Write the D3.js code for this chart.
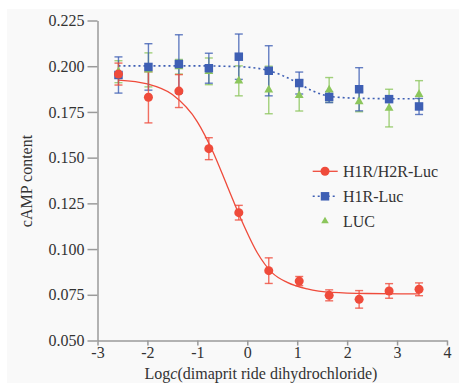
<!DOCTYPE html>
<html>
<head>
<meta charset="utf-8">
<script src="https://cdn.jsdelivr.net/npm/d3@7"></script>
<style>
  body { margin: 0; background: #fff; }
  svg text { font-family: "Liberation Serif", "Times New Roman", serif !important; fill: #333; }
</style>
</head>
<body>
<div id="chart"></div>
<script>
// data
const logConc = [-2.58, -1.98, -1.37, -0.77, -0.17, 0.43, 1.04, 1.64, 2.24, 2.84, 3.44];

const h1h2 = [0.1957, 0.183, 0.1864, 0.1549, 0.1199, 0.0882, 0.0825, 0.0747, 0.0725, 0.0771, 0.078];
const h1h2Err = [0.006, 0.014, 0.009, 0.006, 0.004, 0.007, 0.0025, 0.003, 0.0048, 0.004, 0.0035];

const h1 = [0.1952, 0.1996, 0.2012, 0.1989, 0.2052, 0.1975, 0.1908, 0.1831, 0.1874, 0.182, 0.178];
const h1Err = [0.0099, 0.0127, 0.016, 0.0082, 0.0124, 0.0137, 0.006, 0.003, 0.0118, 0.001, 0.0044];

const luc = [0.197, 0.198, 0.1997, 0.1972, 0.192, 0.187, 0.184, 0.187, 0.1806, 0.1771, 0.1846];
const lucErr = [0.006, 0.0093, 0.004, 0.0073, 0.0082, 0.013, 0.0085, 0.0068, 0.0055, 0.0103, 0.0075];

// fitted curves, sampled from the figure
const fitRedX = [-2.58, -2.0, -1.5, -1.0, -0.7, -0.4, -0.1, 0.2, 0.5, 0.8, 1.2, 1.7, 2.4, 3.44];
const fitRedY = [0.1924, 0.1903, 0.1845, 0.1696, 0.1539, 0.1344, 0.1148, 0.098, 0.087, 0.0818, 0.0782, 0.0763, 0.0757, 0.0755];
const fitBlueX = [-2.58, -1.0, -0.5, 0.0, 0.4, 0.7, 1.0, 1.3, 1.6, 2.0, 2.6, 3.44];
const fitBlueY = [0.2002, 0.2002, 0.2, 0.1995, 0.1978, 0.195, 0.191, 0.1866, 0.1838, 0.1827, 0.1823, 0.1822];

const xTicks = [-3, -2, -1, 0, 1, 2, 3, 4];
const yTicks = [0.05, 0.075, 0.1, 0.125, 0.15, 0.175, 0.2, 0.225];
const seriesNames = ["H1R/H2R-Luc", "H1R-Luc", "LUC"];

const width = 459;
const height = 383;
const serif = "'Liberation Serif', 'Times New Roman', serif";
const red = "#ef4b3b", blue = "#3e5fb4", green = "#8cc65c";

var svg = d3.select("#chart").append("svg")
    .attr("width", width).attr("height", height)
    .attr("font-family", serif);

svg.append("rect").attr("x", 7).attr("y", 9)
    .attr("width", width - 7).attr("height", height - 9)
    .attr("fill", "#f9f9f9");

var x = d3.scaleLinear().domain([-3, 4]).range([97.5, 447]);
var y = d3.scaleLinear().domain([0.05, 0.225]).range([340.5, 20.5]);

// axes
var yAxis = svg.append("g").attr("transform", "translate(" + x(-3) + ",0)")
    .call(d3.axisLeft(y).tickValues(yTicks).tickSize(10).tickSizeOuter(0).tickPadding(3)
        .tickFormat(d3.format(".3f")));
var xAxis = svg.append("g").attr("transform", "translate(0," + y(0.05) + ")")
    .call(d3.axisBottom(x).tickValues(xTicks).tickSize(5).tickSizeOuter(0).tickPadding(1)
        .tickFormat(function (d) { return String(d); }));
[xAxis, yAxis].forEach(function (a) {
    a.attr("font-family", serif).attr("font-size", 16);
    a.selectAll("path, line").attr("stroke", "#9a9a9a").attr("stroke-width", 1.5);
    a.selectAll("text").attr("fill", "#333");
});

svg.append("text")
    .attr("transform", "translate(31.5," + 181 + ") rotate(-90)")
    .attr("text-anchor", "middle").attr("font-size", 16)
    .text("cAMP content");

var xl = svg.append("text").attr("x", 261).attr("y", 379)
    .attr("text-anchor", "middle").attr("font-size", 16);
xl.append("tspan").text("Log");
xl.append("tspan").attr("font-style", "italic").text("c");
xl.append("tspan").text("(dimaprit ride dihydrochloride)");

// fitted lines
var line = d3.line().x(function (d) { return x(d[0]); }).y(function (d) { return y(d[1]); })
    .curve(d3.curveMonotoneX);
svg.append("path").datum(d3.zip(fitRedX, fitRedY))
    .attr("d", line).attr("fill", "none").attr("stroke", red).attr("stroke-width", 1.3);
svg.append("path").datum(d3.zip(fitBlueX, fitBlueY))
    .attr("d", line).attr("fill", "none").attr("stroke", blue).attr("stroke-width", 1.6)
    .attr("stroke-dasharray", "2,3");

// error bars
function errorBars(vals, errs, color) {
    var g = svg.append("g").attr("stroke", color).attr("stroke-width", 1.4)
        .attr("stroke-opacity", 0.8);
    vals.forEach(function (v, i) {
        var cx = x(logConc[i]), y0 = y(v - errs[i]), y1 = y(v + errs[i]);
        g.append("line").attr("x1", cx).attr("x2", cx).attr("y1", y0).attr("y2", y1);
        g.append("line").attr("x1", cx - 4).attr("x2", cx + 4).attr("y1", y0).attr("y2", y0);
        g.append("line").attr("x1", cx - 4).attr("x2", cx + 4).attr("y1", y1).attr("y2", y1);
    });
}
errorBars(luc, lucErr, green);
errorBars(h1, h1Err, blue);
errorBars(h1h2, h1h2Err, red);

var tri = d3.symbol().type(d3.symbolTriangle).size(34);
var sq = d3.symbol().type(d3.symbolSquare).size(72);
var circ = d3.symbol().type(d3.symbolCircle).size(64);

svg.append("g").selectAll("path").data(luc).enter().append("path")
    .attr("d", tri).attr("fill", green)
    .attr("transform", function (d, i) { return "translate(" + x(logConc[i]) + "," + y(d) + ")"; });
svg.append("g").selectAll("path").data(h1).enter().append("path")
    .attr("d", sq).attr("fill", blue)
    .attr("transform", function (d, i) { return "translate(" + x(logConc[i]) + "," + y(d) + ")"; });
svg.append("g").selectAll("path").data(h1h2).enter().append("path")
    .attr("d", circ).attr("fill", red)
    .attr("transform", function (d, i) { return "translate(" + x(logConc[i]) + "," + y(d) + ")"; });

// legend
var legend = svg.append("g").attr("font-family", serif);
var legendRows = [171.3, 196.3, 221];
var legendSyms = [circ, sq, tri];
var legendCols = [red, blue, green];
var legendDash = [null, "2,3", null];
seriesNames.forEach(function (name, i) {
    var ly = legendRows[i];
    if (i < 2) {
        legend.append("line").attr("x1", 312.7).attr("x2", 337.7).attr("y1", ly).attr("y2", ly)
            .attr("stroke", legendCols[i]).attr("stroke-width", i === 0 ? 1.3 : 1.6)
            .attr("stroke-dasharray", legendDash[i]);
    }
    legend.append("path").attr("d", legendSyms[i]).attr("fill", legendCols[i])
        .attr("transform", "translate(325," + ly + ")" + (i === 2 ? " scale(0.85)" : ""));
    legend.append("text").attr("x", 343).attr("y", ly + 5.5).attr("font-size", 16).text(name);
});
</script>
</body>
</html>
